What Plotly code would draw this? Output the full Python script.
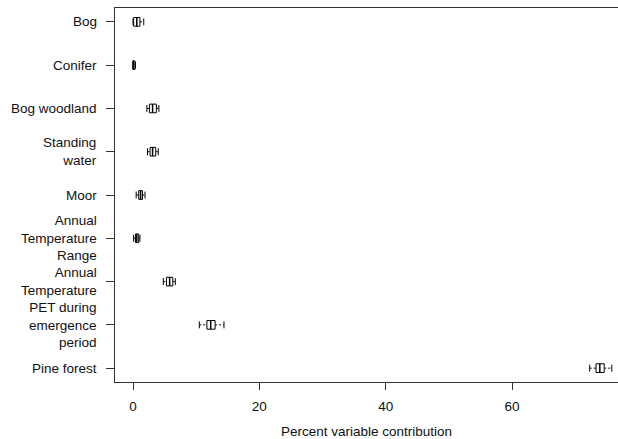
import plotly.graph_objects as go

categories = ["Bog", "Conifer", "Bog woodland", "Standing<br>water", "Moor",
              "Annual<br>Temperature<br>Range", "Annual<br>Temperature",
              "PET during<br>emergence<br>period", "Pine forest"]
lower = [0.0, 0.0, 2.2, 2.3, 0.5, 0.1, 4.8, 10.5, 72.3]
q1 = [0.1, 0.0, 2.6, 2.7, 0.9, 0.4, 5.3, 11.7, 73.3]
median = [0.6, 0.05, 3.1, 3.1, 1.2, 0.6, 5.8, 12.3, 73.9]
q3 = [1.1, 0.3, 3.7, 3.6, 1.5, 0.9, 6.3, 13.0, 74.6]
upper = [1.7, 0.4, 4.1, 4.0, 1.9, 1.1, 6.7, 14.4, 75.8]
x_ticks = [0, 20, 40, 60]

H = 0.1     # half box height (category units)
C = 0.08    # half cap height

box_x, box_y, med_x, med_y, wh_x, wh_y, cap_x, cap_y = [], [], [], [], [], [], [], []
for i in range(len(categories)):
    y = i + 1
    box_x += [q1[i], q3[i], q3[i], q1[i], q1[i], None]
    box_y += [y - H, y - H, y + H, y + H, y - H, None]
    med_x += [median[i], median[i], None]
    med_y += [y - H, y + H, None]
    wh_x += [lower[i], q1[i], None, q3[i], upper[i], None]
    wh_y += [y, y, None, y, y, None]
    cap_x += [lower[i], lower[i], None, upper[i], upper[i], None]
    cap_y += [y - C, y + C, None, y - C, y + C, None]

line = dict(color="black", width=1)
fig = go.Figure()
fig.add_trace(go.Scatter(x=wh_x, y=wh_y, mode="lines", line=dict(color="black", width=1, dash="2px,2px"), hoverinfo="skip"))
fig.add_trace(go.Scatter(x=cap_x, y=cap_y, mode="lines", line=line, hoverinfo="skip"))
fig.add_trace(go.Scatter(x=box_x, y=box_y, mode="lines", line=line, fill="toself", fillcolor="white", hoverinfo="skip"))
fig.add_trace(go.Scatter(x=med_x, y=med_y, mode="lines", line=dict(color="black", width=1.5), hoverinfo="skip"))

font = dict(family="Liberation Sans, Arial, sans-serif", size=13.5, color="#111")
for i, label in enumerate(categories):
    fig.add_annotation(
        x=0, xref="paper", xshift=-16, y=i + 1, yref="y",
        text=label, showarrow=False, xanchor="right", yanchor="middle",
        align="right", font=font,
    )

fig.update_layout(
    width=618, height=439,
    margin=dict(l=115, r=0, t=8, b=57, autoexpand=False),
    plot_bgcolor="white", paper_bgcolor="white",
    showlegend=False,
    font=font,
)
fig.update_xaxes(
    range=[-2.85, 76.78], tickvals=x_ticks, ticktext=[str(v) for v in x_ticks],
    showgrid=False, zeroline=False, showline=True, linecolor="#333", linewidth=1,
    mirror=True, ticks="outside", ticklen=7, tickcolor="#333",
    ticklabelstandoff=5, automargin=False,
    title=dict(text="Percent variable contribution", font=font, standoff=14),
)
fig.update_yaxes(
    range=[9.32, 0.68], tickvals=list(range(1, len(categories) + 1)),
    showticklabels=False,
    showgrid=False, zeroline=False, showline=True, linecolor="#333", linewidth=1,
    ticks="outside", ticklen=8, tickcolor="#333", automargin=False,
)
fig.write_html(
    "out.html",
    config={"displayModeBar": False, "staticPlot": True},
    post_script="document.body.style.margin='0';document.body.style.overflow='hidden';",
)
